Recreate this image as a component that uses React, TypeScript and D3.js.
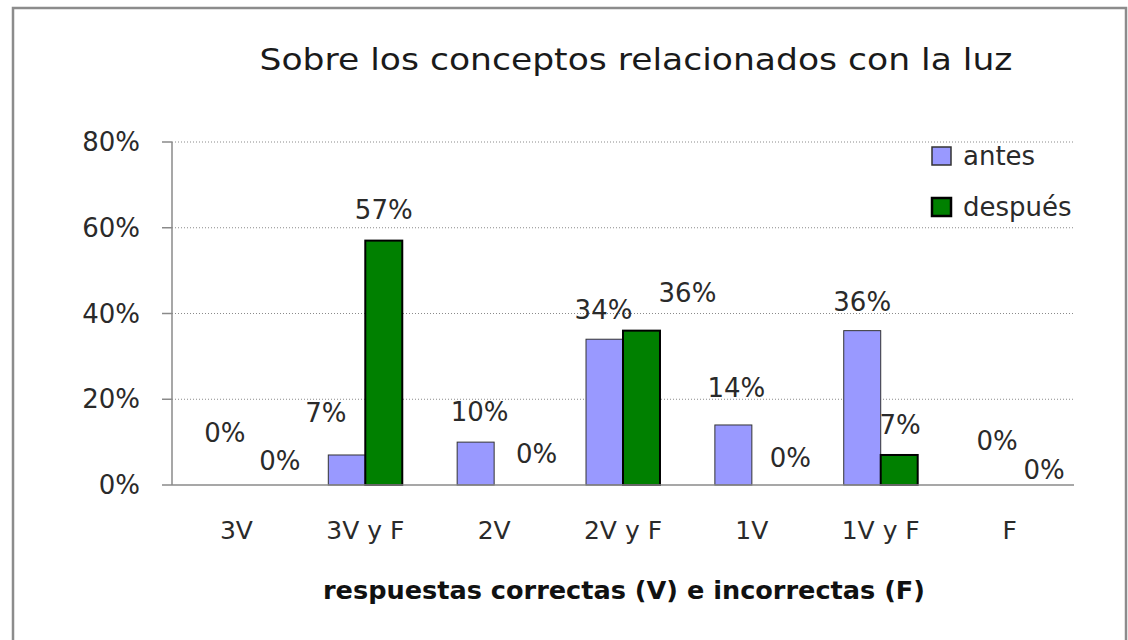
import React from 'react';
import * as d3 from 'd3';

// chart data
const categories = ['3V', '3V y F', '2V', '2V y F', '1V', '1V y F', 'F'];
const seriesNames = ['antes', 'después'];
const antes = [0, 7, 10, 34, 14, 36, 0];
const despues = [0, 57, 0, 36, 0, 7, 0];
const yTicks = [0, 20, 40, 60, 80];

// hand-placed data label nudges (px from bar centre / bar top), as in the original
const antesNudge = [[7, -52], [-21, -42], [4, -30], [-1, -29], [3, -37], [0, -29], [6, -44]];
const despuesNudge = [[25, -24], [0, -31], [24, -31], [46, -38], [20, -27], [1, -30], [16, -15]];

const W = 1128;
const H = 640;
const margin = { top: 142, right: 54, bottom: 155, left: 172 };
const FONT = 'DejaVu Sans, sans-serif';

const App = () => {
  const chartW = W - margin.left - margin.right;
  const chartH = H - margin.top - margin.bottom;

  const x0 = d3.scaleBand().domain(categories).range([0, chartW]).padding(0);
  const x1 = d3.scaleBand()
    .domain(seriesNames)
    .range([0, x0.bandwidth()])
    .paddingInner(0)
    .paddingOuter(0.742);
  const y = d3.scaleLinear().domain([0, 80]).range([chartH, 0]);

  const series = [
    { name: 'antes', values: antes, nudge: antesNudge, fill: '#9999ff', stroke: '#333333', sw: 1 },
    { name: 'después', values: despues, nudge: despuesNudge, fill: '#008000', stroke: '#000000', sw: 2 },
  ];

  return (
    <svg width={W} height={H} style={{ position: 'absolute', left: 0, top: 0 }} fontFamily={FONT}>
      <rect x={0} y={0} width={W} height={H} fill="#fff" />
      {/* outer frame */}
      <rect x={13} y={8} width={1113} height={H + 10} fill="none" stroke="#8c8c8c" strokeWidth={2.5} />

      <text
        x={636}
        y={59}
        textAnchor="middle"
        dominantBaseline="central"
        fontSize={31}
        fill="#1a1a1a"
        textLength={753}
        lengthAdjust="spacingAndGlyphs"
      >
        Sobre los conceptos relacionados con la luz
      </text>

      <g transform={`translate(${margin.left},${margin.top})`}>
        {/* grid + y ticks */}
        {yTicks.map(t => (
          <g key={t}>
            {t > 0 && (
              <line x1={0} x2={chartW} y1={y(t)} y2={y(t)} stroke="#8a8a8a" strokeWidth={1} strokeDasharray="1,2" />
            )}
            <line x1={-10} x2={0} y1={y(t)} y2={y(t)} stroke="#8a8a8a" strokeWidth={1.5} />
            <text x={-32} y={y(t)} textAnchor="end" dominantBaseline="central" fontSize={26} fill="#2a2a2a">
              {t}%
            </text>
          </g>
        ))}

        {/* bars */}
        {series.map(s => (
          <g key={s.name}>
            {s.values.map((v, i) => (
              <rect
                key={i}
                x={(x0(categories[i]) || 0) + (x1(s.name) || 0)}
                y={y(v)}
                width={x1.bandwidth()}
                height={chartH - y(v)}
                fill={s.fill}
                stroke={v > 0 ? s.stroke : 'none'}
                strokeWidth={s.sw}
              />
            ))}
          </g>
        ))}

        {/* axes */}
        <line x1={0} x2={0} y1={0} y2={chartH} stroke="#8a8a8a" strokeWidth={1.5} />
        <line x1={0} x2={chartW} y1={chartH} y2={chartH} stroke="#8a8a8a" strokeWidth={1.5} />

        {/* data labels */}
        {series.map(s => (
          <g key={s.name + '-lbl'}>
            {s.values.map((v, i) => (
              <text
                key={i}
                x={(x0(categories[i]) || 0) + (x1(s.name) || 0) + x1.bandwidth() / 2 + s.nudge[i][0]}
                y={y(v) + s.nudge[i][1]}
                textAnchor="middle"
                dominantBaseline="central"
                fontSize={26}
                fill="#2a2a2a"
              >
                {v}%
              </text>
            ))}
          </g>
        ))}

        {/* category labels */}
        {categories.map(c => (
          <text
            key={c}
            x={(x0(c) || 0) + x0.bandwidth() / 2}
            y={chartH + 45}
            textAnchor="middle"
            dominantBaseline="central"
            fontSize={25}
            fill="#2a2a2a"
          >
            {c}
          </text>
        ))}

        <text
          x={452}
          y={chartH + 106}
          textAnchor="middle"
          dominantBaseline="central"
          fontSize={24}
          fontWeight="bold"
          fill="#111"
          textLength={602}
          lengthAdjust="spacingAndGlyphs"
        >
          respuestas correctas (V) e incorrectas (F)
        </text>
      </g>

      {/* legend */}
      {series.map((s, i) => (
        <g key={s.name + '-leg'} transform={`translate(932,${147 + i * 51})`}>
          <rect x={0} y={0} width={19} height={18} fill={s.fill} stroke={s.stroke} strokeWidth={s.sw + 0.5} />
          <text x={31} y={9} dominantBaseline="central" fontSize={26} fill="#2a2a2a">
            {s.name}
          </text>
        </g>
      ))}
    </svg>
  );
};

export default App;
